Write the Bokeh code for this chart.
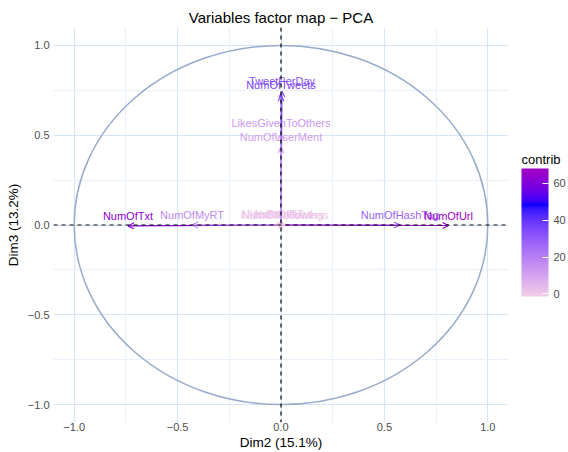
import numpy as np
from bokeh.plotting import figure
from bokeh.models import (Arrow, OpenHead, ColumnDataSource, Span, LinearColorMapper,
                          ColorBar, FixedTicker, CustomJSTickFormatter, Range1d)
from bokeh.core.properties import value
from bokeh.embed import file_html
from bokeh.resources import INLINE

# ---- data ----
variables = ["TweetPerDay", "NumOfTweets", "LikesGivenToOthers", "NumOfUserMent",
             "NumOfTxt", "NumOfMyRT", "NumOfHashTag", "NumOfUrl",
             "LikesReceived", "NumOfFollowers", "NumOfFollowings", "NumOfRT"]
dim2 = [0.005, 0.0, 0.0, 0.0, -0.74, -0.43, 0.575, 0.81, -0.02, 0.01, 0.02, -0.01]
dim3 = [0.745, 0.723, 0.51, 0.435, -0.005, 0.0, 0.0, -0.003, 0.004, 0.002, 0.0, 0.006]
contrib = [33.0, 36.0, 14.0, 12.0, 62.0, 17.0, 28.0, 66.4, 0.3, 0.6, 0.9, 1.2]

axis_ticks = [-1.0, -0.5, 0.0, 0.5, 1.0]
axis_minor = [-0.75, -0.25, 0.25, 0.75]
legend_ticks = [0, 20, 40, 60]
circle_radius = 1.0

FONT = "Liberation Sans"

# ---- colour gradient (Lab interpolation between stops) ----
def _srgb_to_lab(c):
    rgb = np.array([int(c[i:i + 2], 16) for i in (1, 3, 5)]) / 255.0
    lin = np.where(rgb <= 0.04045, rgb / 12.92, ((rgb + 0.055) / 1.055) ** 2.4)
    M = np.array([[0.4124, 0.3576, 0.1805], [0.2126, 0.7152, 0.0722], [0.0193, 0.1192, 0.9505]])
    xyz = M @ lin / np.array([0.95047, 1.0, 1.08883])
    f = np.where(xyz > 0.008856, np.cbrt(xyz), 7.787 * xyz + 16 / 116)
    return np.array([116 * f[1] - 16, 500 * (f[0] - f[1]), 200 * (f[1] - f[2])])

def _lab_to_hex(lab):
    L, a, b = lab
    fy = (L + 16) / 116
    fx = fy + a / 500
    fz = fy - b / 200
    f = np.array([fx, fy, fz])
    xyz = np.where(f ** 3 > 0.008856, f ** 3, (f - 16 / 116) / 7.787) * np.array([0.95047, 1.0, 1.08883])
    Minv = np.array([[3.2406, -1.5372, -0.4986], [-0.9689, 1.8758, 0.0415], [0.0557, -0.2040, 1.0570]])
    lin = np.clip(Minv @ xyz, 0, 1)
    rgb = np.where(lin <= 0.0031308, 12.92 * lin, 1.055 * lin ** (1 / 2.4) - 0.055)
    rgb = np.clip(np.round(rgb * 255), 0, 255).astype(int)
    return "#%02x%02x%02x" % tuple(rgb)

stops = [(0.0, "#f2cde8"), (0.72, "#0000ff"), (1.0, "#a000c4")]
palette = []
for t in np.linspace(0, 1, 256):
    for (t0, c0), (t1, c1) in zip(stops[:-1], stops[1:]):
        if t0 <= t <= t1:
            u = (t - t0) / (t1 - t0)
            palette.append(_lab_to_hex((1 - u) * _srgb_to_lab(c0) + u * _srgb_to_lab(c1)))
            break

pad = (max(contrib) - min(contrib)) / 38.0
mapper = LinearColorMapper(palette=palette, low=min(contrib) - pad, high=max(contrib) + pad)
cmap = {"field": "contrib", "transform": mapper}

source = ColumnDataSource(dict(name=variables, x=dim2, y=dim3, contrib=contrib))

p = figure(width=568, height=452, output_backend="svg", toolbar_location=None,
           x_range=Range1d(-1.1, 1.1), y_range=Range1d(-1.1, 1.1),
           min_border_left=53, min_border_right=60, min_border_top=27, min_border_bottom=30,
           background_fill_color="white", border_fill_color="white")
p.outline_line_color = None

# title
p.title.text = "Variables factor map \u2212 PCA"
p.title.align = "center"
p.title.text_font = FONT
p.title.text_font_size = "15px"
p.title.text_font_style = "normal"
p.title.text_color = "black"
p.title.standoff = 4

# grid
for g in (p.xgrid, p.ygrid):
    g.ticker = FixedTicker(ticks=axis_ticks, minor_ticks=axis_minor)
    g.grid_line_color = "#d6e6f8"
    g.grid_line_width = 1.1
    g.minor_grid_line_color = "#e8f1fb"
    g.minor_grid_line_width = 1

fmt = CustomJSTickFormatter(code="return (tick < 0 ? '\\u2212' : '') + Math.abs(tick).toFixed(1);")
for ax in (p.xaxis, p.yaxis):
    ax.ticker = FixedTicker(ticks=axis_ticks, minor_ticks=axis_minor)
    ax.formatter = fmt
    ax.axis_line_color = None
    ax.major_tick_line_color = None
    ax.minor_tick_line_color = None
    ax.major_tick_out = 0
    ax.major_tick_in = 0
    ax.minor_tick_out = 0
    ax.minor_tick_in = 0
    ax.major_label_text_font = FONT
    ax.major_label_text_font_size = "11px"
    ax.major_label_text_color = "#4d4d4d"
    ax.axis_label_text_font = FONT
    ax.axis_label_text_font_size = "13.5px"
    ax.axis_label_text_font_style = "normal"
    ax.axis_label_text_color = "black"
p.xaxis.axis_label = "Dim2 (15.1%)"
p.yaxis.axis_label = "Dim3 (13.2%)"
p.xaxis.major_label_standoff = 0
p.xaxis.axis_label_standoff = 1
p.yaxis.major_label_standoff = 4
p.yaxis.axis_label_standoff = 4

# correlation circle
p.ellipse(x=[0], y=[0], width=[2 * circle_radius], height=[2 * circle_radius],
          fill_color=None, line_color="#97abcb", line_width=1.5)

# arrows
arrows = Arrow(x_start=0, y_start=0, x_end="x", y_end="y", source=source,
               line_color=cmap, line_width=1.1,
               end=OpenHead(size=6, line_width=1.1, line_color=cmap))
p.add_layout(arrows)

# labels
p.text(x="x", y="y", text="name", source=source, text_color=cmap,
       text_align="center", text_baseline="middle", y_offset=-10,
       text_font=value(FONT), text_font_size="11px")

# dashed reference lines
p.add_layout(Span(location=0, dimension="height", line_color="black", line_width=1.2,
                  line_dash="4 4", level="overlay"))
p.add_layout(Span(location=0, dimension="width", line_color="black", line_width=1.2,
                  line_dash="4 4", level="overlay"))

# colour bar (placed just right of the plotting frame)
cb = ColorBar(color_mapper=mapper, ticker=FixedTicker(ticks=legend_ticks),
              orientation="vertical",
              width=27, height=128, label_standoff=5,
              major_label_text_font=FONT, major_label_text_font_size="11px",
              major_label_text_color="#4d4d4d",
              major_tick_line_color="white", major_tick_in=6, major_tick_out=0,
              bar_line_color=None, border_line_color=None, background_fill_color=None,
              padding=0, margin=0, location=(468, 126))
p.add_layout(cb)

# colour bar title: an invisible horizontal bar whose (horizontal) title sits on top
cb_title = ColorBar(color_mapper=mapper, ticker=FixedTicker(ticks=[]),
                    orientation="horizontal", title="contrib",
                    title_text_font=FONT, title_text_font_size="13px",
                    title_text_font_style="normal", title_text_color="black",
                    title_standoff=2, width=40, height=1, scale_alpha=0,
                    label_standoff=0, major_label_text_font_size="1px",
                    major_label_text_alpha=0, major_tick_line_color=None,
                    minor_tick_line_color=None, bar_line_color=None,
                    border_line_color=None, background_fill_color=None,
                    padding=0, margin=0, location=(468, 254))
p.add_layout(cb_title)

open("out.html", "w").write(file_html(p, INLINE))
